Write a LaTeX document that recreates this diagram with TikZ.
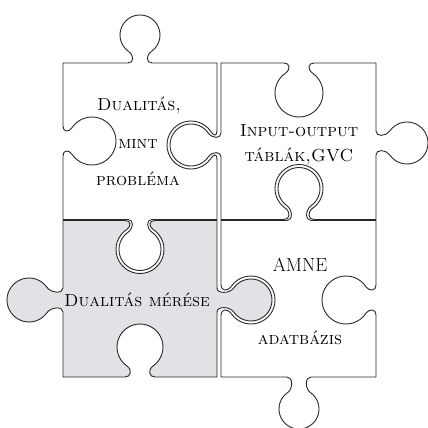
\documentclass[tikz,border=0pt]{standalone}
\usepackage{fontspec}
\definecolor{edgecol}{RGB}{40,40,40}
\definecolor{grayfill}{RGB}{225,226,230}
% local point: frame {ex}{ey}{ux}{uy}{vx}{vy}, local (a,b)
\def\Lpx#1#2#3#4#5#6#7#8{({#1+(#7)*(#3)+(#8)*(#5)},{#2+(#7)*(#4)+(#8)*(#6)})}
\def\Lp#1{\Lpx#1}
% arc segment: frame, R, d, theta a, theta b
\newcommand\seg[5]{ .. controls \Lp{#1}{(#2)*(cos(#4)+0.4365*sin(#4))}{#3+(#2)*(sin(#4)-0.4365*cos(#4))} and \Lp{#1}{(#2)*(cos(#5)-0.4365*sin(#5))}{#3+(#2)*(sin(#5)+0.4365*cos(#5))} .. \Lp{#1}{(#2)*cos(#5)}{#3+(#2)*sin(#5)}}
% tab: frame, clearance g, depth d, radius r
\newcommand\tab[4]{ -- \Lp{#1}{-(12+#2)}{0} .. controls \Lp{#1}{-(6+#2)}{0} and \Lp{#1}{(#4+#2)*cos(235)+5.73}{#3+(#4+#2)*sin(235)-4.02} .. \Lp{#1}{(#4+#2)*cos(235)}{#3+(#4+#2)*sin(235)}\seg{#1}{#4+#2}{#3}{235}{162.5}\seg{#1}{#4+#2}{#3}{162.5}{90}\seg{#1}{#4+#2}{#3}{90}{17.5}\seg{#1}{#4+#2}{#3}{17.5}{-55} .. controls \Lp{#1}{(#4+#2)*cos(-55)-5.73}{#3+(#4+#2)*sin(-55)-4.02} and \Lp{#1}{6+#2}{0} .. \Lp{#1}{12+#2}{0}}
% pieces
\edef\pieceA{(63,63) \tab{{140}{63}{1}{0}{0}{-1}}{0}{28}{20} -- (217,63) \tab{{217}{145}{0}{1}{-1}{0}}{3}{26}{21} -- (217,219.5) \tab{{140}{219.5}{-1}{0}{0}{1}}{0}{30}{21} -- (63,219.5) \tab{{63}{141}{0}{-1}{1}{0}}{3}{29}{21} -- cycle}
\edef\pieceB{(221,63) \tab{{299}{63}{1}{0}{0}{1}}{3}{30}{21} -- (376,63) \tab{{376}{143}{0}{1}{1}{0}}{0}{31}{21} -- (376,219.5) \tab{{299}{219.5}{-1}{0}{0}{-1}}{3}{31}{21} -- (221,219.5) \tab{{221}{145}{0}{-1}{-1}{0}}{0}{30}{21} -- cycle}
\edef\pieceC{(63,220.5) \tab{{140}{220.5}{1}{0}{0}{1}}{3}{29}{21} -- (217,220.5) \tab{{217}{300}{0}{1}{1}{0}}{0}{34}{21} -- (217,377) \tab{{140}{377}{-1}{0}{0}{-1}}{3}{30}{20} -- (63,377) \tab{{63}{300}{0}{-1}{-1}{0}}{0}{34}{22} -- cycle}
\edef\pieceD{(221,220.5) \tab{{299}{220.5}{1}{0}{0}{-1}}{0}{32}{21} -- (376,220.5) \tab{{376}{300}{0}{1}{-1}{0}}{3}{30}{21} -- (376,377) \tab{{299}{377}{-1}{0}{0}{1}}{0}{32}{20} -- (221,377) \tab{{221}{300}{0}{-1}{1}{0}}{3}{30}{21} -- cycle}
\begin{document}
\begin{tikzpicture}[x=1pt,y=-1pt,
  piece/.style={draw=edgecol, line width=0.9pt, line join=round},
  lbl/.style={anchor=base, inner sep=0pt, font=\fontsize{17.5}{20}\selectfont\scshape, text=black}]
\useasboundingbox[fill=white] (0,0) rectangle (428,428);
\filldraw[piece, fill=white] \pieceA;
\filldraw[piece, fill=white] \pieceB;
\filldraw[piece, fill=grayfill] \pieceC;
\filldraw[piece, fill=white] \pieceD;
\node[lbl] (t1) at (139,110) {Dualitás,};
\node[lbl] (t2) at (138,148) {mint};
\node[lbl] (t3) at (138,185) {probléma};
\node[lbl] (t4) at (299,136) {Input-output};
\node[lbl] (t5) at (299,161) {táblák,GVC};
\node[lbl, font=\fontsize{19}{20}\selectfont] (t6) at (300,271) {AMNE};
\node[lbl] (t7) at (300,344) {adatbázis};
\node[lbl] (t8) at (137,306) {Dualitás mérése};
\end{tikzpicture}
\end{document}
